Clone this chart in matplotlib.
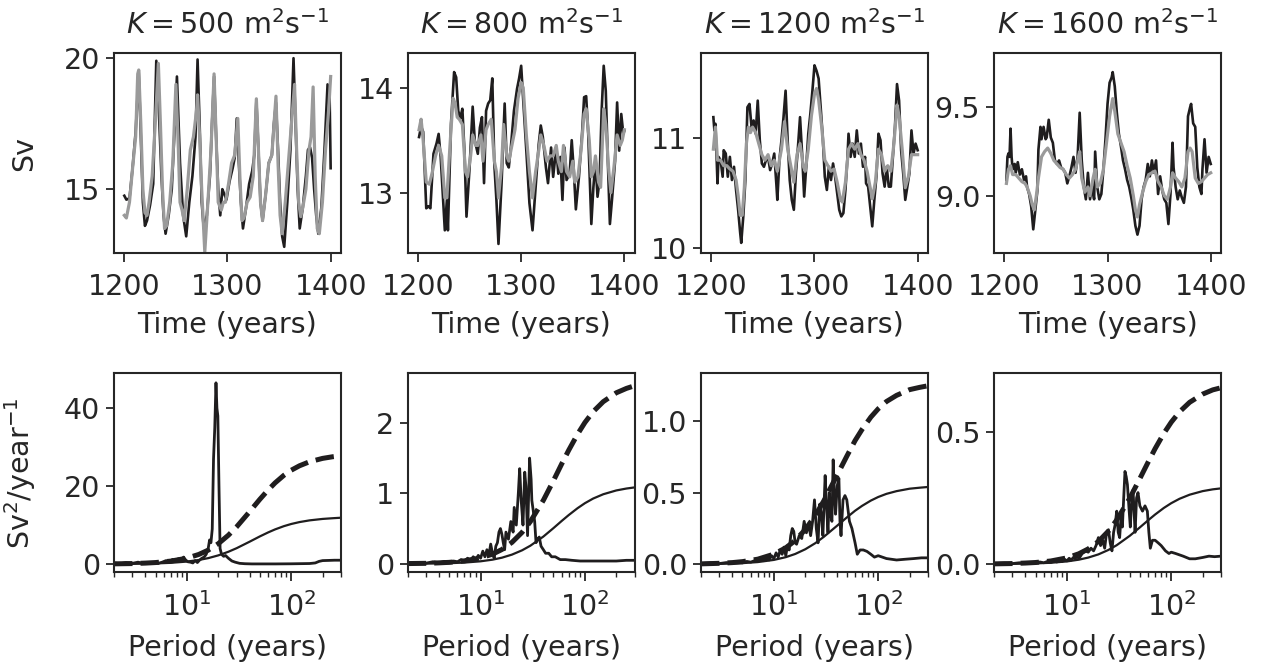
import matplotlib
matplotlib.use("Agg")
import matplotlib.pyplot as plt

K_VALUES = [500, 800, 1200, 1600]

# ---------------- top row: transport time series (Sv) ----------------
yr_500_blk = [1200, 1202, 1205, 1208, 1211, 1214, 1216, 1218, 1220, 1222,
              1225, 1228, 1231, 1233, 1236, 1238, 1240, 1243, 1246, 1249,
              1251, 1254, 1257, 1260, 1263, 1266, 1269, 1271, 1273, 1275,
              1277, 1280, 1283, 1285, 1287, 1289, 1291, 1293, 1295, 1297,
              1299, 1302, 1305, 1307, 1309, 1311, 1313, 1315, 1318, 1321,
              1324, 1326, 1328, 1330, 1332, 1334, 1337, 1340, 1343, 1345,
              1347, 1349, 1351, 1353, 1355, 1358, 1361, 1364, 1366, 1368,
              1370, 1373, 1376, 1378, 1380, 1382, 1384, 1386, 1388, 1391,
              1394, 1397, 1399, 1400]
sv_500_blk = [14.75, 14.6, 14.65, 15.8, 17.2, 19.5, 17.0, 14.5, 13.6, 13.8,
              14.4, 15.2, 19.9, 18.5, 15.5, 14.0, 13.3, 14.0, 15.0, 17.5,
              19.3, 16.0, 14.0, 13.2, 14.5, 15.5, 17.0, 19.95, 17.5, 14.5,
              13.5, 14.0, 15.5, 17.5, 19.3, 17.0, 15.0, 14.0, 15.0, 14.8,
              14.6, 15.3, 15.8, 16.2, 17.7, 16.0, 14.5, 13.5, 14.3, 15.2,
              15.7, 16.3, 18.4, 16.5, 14.5, 13.8, 14.8, 16.0, 16.3, 17.5,
              18.3, 16.5, 14.5, 13.2, 12.8, 14.5, 16.5, 20.0, 17.5, 15.0,
              13.5, 14.3, 15.5, 16.5, 16.6, 16.2, 15.0, 14.0, 13.3, 14.3,
              16.5, 19.0, 18.5, 15.8]
yr_500_gry = [1200, 1202, 1205, 1208, 1211, 1213, 1214, 1216, 1218, 1220,
              1222, 1224, 1227, 1230, 1233, 1235, 1237, 1239, 1241, 1244,
              1247, 1250, 1252, 1254, 1256, 1258, 1261, 1264, 1267, 1270,
              1271, 1273, 1275, 1278, 1281, 1284, 1287, 1289, 1291, 1294,
              1296, 1298, 1301, 1304, 1307, 1310, 1312, 1314, 1316, 1319,
              1322, 1325, 1328, 1330, 1332, 1334, 1337, 1340, 1343, 1347,
              1349, 1351, 1353, 1356, 1360, 1363, 1365, 1367, 1369, 1371,
              1373, 1376, 1379, 1381, 1383, 1385, 1387, 1389, 1392, 1395,
              1398, 1400]
sv_500_gry = [14.0, 13.9, 14.5, 15.8, 17.0, 19.4, 19.55, 17.5, 15.0, 14.1,
              14.0, 14.5, 15.5, 17.5, 19.8, 17.5, 15.0, 13.5, 13.6, 14.5,
              16.0, 19.0, 17.0, 14.5, 14.2, 13.8, 15.0, 16.5, 17.0, 18.0,
              18.6, 17.0, 15.0, 12.6, 14.5, 16.5, 19.4, 17.0, 14.5, 14.2,
              14.5, 14.5, 15.2, 16.0, 16.3, 17.7, 15.5, 13.8, 13.9, 14.5,
              14.7, 15.5, 18.45, 16.5, 14.5, 13.8, 14.8, 16.0, 16.3, 18.55,
              16.0, 14.0, 13.3, 14.5, 16.5, 18.0, 19.0, 16.5, 14.5, 13.95,
              14.3, 15.0, 16.5, 17.0, 18.9, 15.5, 13.5, 13.3, 14.5, 16.5,
              18.0, 19.3]

yr_800_blk = [1201, 1203, 1205, 1208, 1210, 1212, 1215, 1218, 1220, 1222,
              1226, 1228, 1229, 1232, 1235, 1237, 1239, 1241, 1243, 1245,
              1247, 1250, 1253, 1255, 1258, 1260, 1262, 1264, 1266, 1268,
              1270, 1272, 1274, 1276, 1278, 1281, 1284, 1286, 1288, 1290,
              1293, 1296, 1298, 1300, 1302, 1305, 1308, 1311, 1314, 1317,
              1319, 1321, 1324, 1326, 1329, 1331, 1334, 1336, 1338, 1340,
              1342, 1344, 1347, 1349, 1351, 1353, 1356, 1359, 1361, 1363,
              1365, 1368, 1370, 1372, 1374, 1376, 1378, 1380, 1382, 1384,
              1386, 1388, 1391, 1393, 1395, 1397, 1399, 1400]
sv_800_blk = [13.53, 13.63, 13.58, 12.85, 12.87, 12.85, 13.37, 13.47, 13.56, 13.34,
              12.64, 12.93, 12.64, 13.66, 14.15, 14.1, 13.78, 13.71, 13.8, 13.4,
              12.77, 13.24, 13.82, 13.5, 13.37, 13.62, 13.72, 13.09, 13.78, 13.85,
              13.88, 14.09, 13.27, 12.93, 12.51, 13.09, 13.85, 13.28, 13.24, 13.43,
              13.78, 13.99, 14.09, 14.21, 13.88, 13.4, 12.9, 12.64, 13.05, 13.46,
              13.64, 13.53, 13.24, 13.09, 13.43, 13.15, 13.43, 13.18, 13.34, 12.93,
              13.43, 13.12, 13.18, 13.5, 13.21, 12.84, 13.15, 13.56, 13.91, 13.92,
              13.56, 12.7, 13.05, 13.3, 12.96, 13.12, 13.78, 14.21, 13.97, 13.3,
              12.7, 12.93, 13.3, 13.86, 13.4, 13.75, 13.56, 13.59]
yr_800_gry = [1201, 1203, 1205, 1208, 1211, 1214, 1217, 1220, 1223, 1226,
              1228, 1231, 1234, 1236, 1238, 1240, 1243, 1246, 1248, 1251,
              1253, 1256, 1258, 1261, 1263, 1266, 1268, 1271, 1274, 1276,
              1278, 1281, 1283, 1286, 1288, 1291, 1294, 1297, 1300, 1302,
              1305, 1308, 1311, 1314, 1317, 1319, 1322, 1325, 1328, 1331,
              1334, 1336, 1339, 1341, 1344, 1347, 1350, 1352, 1355, 1358,
              1361, 1363, 1366, 1368, 1370, 1372, 1375, 1377, 1380, 1382,
              1385, 1387, 1390, 1393, 1396, 1398, 1400]
sv_800_gry = [13.6, 13.7, 13.5, 13.1, 13.08, 13.2, 13.35, 13.45, 13.35, 12.95,
              12.95, 13.45, 13.9, 13.85, 13.72, 13.7, 13.65, 13.2, 13.15, 13.35,
              13.55, 13.45, 13.45, 13.55, 13.3, 13.6, 13.65, 13.7, 13.3, 13.2,
              12.95, 13.25, 13.65, 13.35, 13.3, 13.45, 13.6, 13.9, 14.05, 14.0,
              13.55, 13.2, 12.95, 13.2, 13.4, 13.55, 13.45, 13.3, 13.35, 13.35,
              13.45, 13.3, 13.2, 13.45, 13.2, 13.15, 13.3, 13.1, 13.15, 13.4,
              13.75, 13.8, 13.5, 13.15, 13.2, 13.35, 13.1, 13.05, 13.8, 13.65,
              13.2, 13.0, 13.25, 13.55, 13.45, 13.5, 13.6]

yr_1200_blk = [1202, 1203, 1204, 1205, 1206, 1207, 1209, 1211, 1212, 1214,
               1216, 1218, 1220, 1222, 1224, 1226, 1228, 1229, 1231, 1233,
               1235, 1237, 1239, 1241, 1243, 1245, 1247, 1249, 1251, 1253,
               1255, 1257, 1259, 1261, 1263, 1264, 1266, 1268, 1270, 1272,
               1274, 1276, 1278, 1280, 1282, 1284, 1286, 1288, 1290, 1292,
               1294, 1296, 1298, 1300, 1302, 1304, 1306, 1308, 1310, 1312,
               1314, 1316, 1318, 1320, 1322, 1324, 1326, 1328, 1330, 1332,
               1333, 1335, 1337, 1339, 1341, 1343, 1345, 1347, 1349, 1350,
               1352, 1354, 1356, 1358, 1360, 1362, 1364, 1366, 1368, 1370,
               1372, 1374, 1376, 1378, 1380, 1382, 1384, 1386, 1388, 1390,
               1392, 1394, 1396, 1398, 1400]
sv_1200_blk = [11.19, 11.07, 11.13, 10.86, 10.59, 10.83, 10.8, 10.65, 10.89, 10.86,
               10.65, 10.83, 10.62, 10.74, 10.53, 10.35, 10.14, 10.05, 10.29, 10.62,
               11.28, 11.31, 11.1, 11.16, 11.04, 11.34, 10.98, 10.77, 10.74, 10.8,
               10.83, 10.71, 10.77, 10.86, 10.59, 10.44, 10.8, 10.98, 11.19, 11.43,
               10.98, 10.62, 10.44, 10.35, 10.68, 10.92, 11.19, 10.86, 10.47, 10.74,
               11.04, 11.22, 11.43, 11.66, 11.61, 11.54, 11.28, 11.01, 10.65, 10.53,
               10.74, 10.62, 10.77, 10.65, 10.5, 10.35, 10.29, 10.32, 10.53, 10.83,
               11.04, 10.83, 10.95, 10.83, 11.07, 10.86, 10.95, 10.74, 10.83, 10.59,
               10.56, 10.38, 10.2, 10.44, 10.65, 11.04, 10.98, 10.68, 10.56, 10.74,
               10.56, 10.56, 10.83, 11.1, 11.49, 11.34, 10.89, 10.68, 10.44, 10.56,
               10.68, 11.07, 10.86, 10.95, 10.89]
yr_1200_gry = [1202, 1204, 1206, 1209, 1212, 1215, 1218, 1221, 1224, 1226,
               1228, 1230, 1232, 1234, 1236, 1238, 1240, 1243, 1246, 1249,
               1252, 1255, 1258, 1261, 1264, 1266, 1268, 1271, 1274, 1277,
               1280, 1283, 1286, 1289, 1291, 1294, 1297, 1300, 1302, 1304,
               1307, 1310, 1313, 1316, 1319, 1322, 1325, 1327, 1330, 1333,
               1336, 1339, 1342, 1345, 1348, 1351, 1354, 1356, 1359, 1362,
               1365, 1368, 1371, 1374, 1377, 1380, 1382, 1385, 1388, 1391,
               1394, 1397, 1400]
sv_1200_gry = [10.9, 11.1, 10.8, 10.8, 10.75, 10.75, 10.72, 10.7, 10.62, 10.48,
               10.3, 10.3, 10.55, 10.95, 11.1, 11.05, 11.1, 11.05, 10.95, 10.85,
               10.8, 10.85, 10.75, 10.8, 10.7, 10.8, 10.9, 11.15, 10.9, 10.75,
               10.6, 10.85, 10.95, 10.75, 10.7, 10.9, 11.2, 11.4, 11.45, 11.35,
               11.1, 10.8, 10.75, 10.7, 10.72, 10.6, 10.45, 10.42, 10.6, 10.9,
               10.95, 10.9, 10.95, 10.85, 10.8, 10.7, 10.55, 10.45, 10.6, 10.9,
               10.85, 10.7, 10.75, 10.7, 10.95, 11.3, 11.2, 10.9, 10.55, 10.65,
               10.85, 10.85, 10.85]

yr_1600_blk = [1202, 1203, 1204, 1205, 1206, 1207, 1208, 1210, 1211, 1213,
               1215, 1217, 1219, 1221, 1222, 1224, 1226, 1228, 1230, 1232,
               1233, 1235, 1236, 1238, 1240, 1241, 1243, 1245, 1247, 1249,
               1251, 1253, 1255, 1257, 1259, 1261, 1263, 1265, 1267, 1269,
               1271, 1273, 1275, 1277, 1279, 1281, 1283, 1285, 1287, 1288,
               1290, 1292, 1294, 1296, 1298, 1300, 1302, 1304, 1305, 1307,
               1309, 1311, 1313, 1315, 1317, 1319, 1321, 1323, 1325, 1327,
               1329, 1331, 1333, 1335, 1337, 1339, 1341, 1343, 1345, 1347,
               1349, 1351, 1353, 1355, 1357, 1359, 1361, 1363, 1364, 1366,
               1368, 1370, 1372, 1374, 1376, 1378, 1380, 1381, 1383, 1385,
               1387, 1389, 1391, 1392, 1394, 1396, 1398, 1400]
sv_1600_blk = [9.09, 9.22, 9.24, 9.22, 9.38, 9.22, 9.15, 9.18, 9.13, 9.19,
               9.12, 9.15, 9.09, 9.11, 9.05, 9.01, 8.94, 8.81, 8.92, 9.03,
               9.26, 9.39, 9.32, 9.39, 9.32, 9.33, 9.43, 9.33, 9.30, 9.20,
               9.18, 9.20, 9.16, 9.15, 9.13, 9.07, 9.11, 9.16, 9.22, 9.13,
               9.22, 9.47, 9.20, 9.05, 8.98, 9.13, 8.98, 9.05, 8.98, 9.25,
               9.05, 8.98, 9.01, 9.15, 9.32, 9.52, 9.64, 9.67, 9.70, 9.62,
               9.47, 9.35, 9.28, 9.20, 9.15, 9.09, 9.05, 8.99, 8.92, 8.83,
               8.78, 8.83, 8.98, 9.05, 9.09, 9.18, 9.11, 9.20, 9.13, 9.20,
               9.01, 9.11, 9.03, 8.98, 8.96, 8.84, 9.01, 9.30, 9.16, 9.05,
               8.98, 9.03, 8.99, 8.96, 9.05, 9.45, 9.50, 9.52, 9.41, 9.39,
               9.16, 9.05, 9.01, 9.15, 9.32, 9.13, 9.22, 9.18]
yr_1600_gry = [1202, 1204, 1206, 1208, 1211, 1214, 1217, 1220, 1222, 1225,
               1227, 1229, 1231, 1233, 1236, 1239, 1242, 1245, 1248, 1251,
               1254, 1257, 1260, 1263, 1266, 1269, 1271, 1273, 1275, 1278,
               1281, 1283, 1286, 1288, 1290, 1293, 1296, 1299, 1302, 1305,
               1307, 1310, 1313, 1316, 1319, 1322, 1325, 1327, 1329, 1331,
               1334, 1337, 1340, 1343, 1346, 1349, 1352, 1355, 1358, 1361,
               1363, 1366, 1369, 1372, 1375, 1378, 1380, 1382, 1385, 1388,
               1391, 1394, 1397, 1400]
sv_1600_gry = [9.07, 9.15, 9.17, 9.12, 9.12, 9.1, 9.08, 9.07, 9.05, 9.0,
               8.95, 8.92, 9.0, 9.1, 9.22, 9.25, 9.27, 9.24, 9.2, 9.18,
               9.16, 9.15, 9.12, 9.1, 9.12, 9.15, 9.2, 9.25, 9.1, 9.02,
               9.05, 9.0, 9.1, 9.15, 9.05, 9.07, 9.15, 9.3, 9.45, 9.55,
               9.48, 9.35, 9.3, 9.25, 9.17, 9.1, 9.0, 8.92, 8.88, 8.95,
               9.02, 9.08, 9.12, 9.13, 9.14, 9.08, 9.05, 9.0, 8.98, 9.05,
               9.13, 9.1, 9.08, 9.05, 9.1, 9.25, 9.27, 9.25, 9.1, 9.07,
               9.08, 9.1, 9.12, 9.13]

# ---------------- bottom row: spectra (Sv^2/year^-1) ----------------
per_500 = [2.0, 2.3, 2.6, 3.0, 3.4, 3.8, 4.3, 4.8, 5.3, 5.8,
           6.3, 6.8, 7.3, 7.8, 8.3, 8.8, 9.3, 9.7, 10.2, 10.8,
           11.4, 12.0, 12.6, 13.2, 13.9, 14.6, 15.3, 16.0, 16.5, 17.0,
           17.5, 18.0, 18.5, 19.0, 19.4, 19.8, 20.3, 20.8, 21.5, 22.5,
           23.5, 25, 27, 29, 32, 36, 42, 50, 70, 100,
           150, 170, 185, 200, 230, 260, 300]
psd_500 = [0.3, 0.1, 0.4, 0.2, 0.5, 0.2, 0.4, 0.3, 0.2, 0.5,
           0.9, 0.6, 1.2, 0.7, 1.4, 0.9, 1.8, 1.1, 0.6, 0.5,
           0.3, 0.9, 0.4, 1.0, 1.5, 1.8, 2.5, 4.0, 6.2, 5.5,
           9.0, 27.0, 35.0, 46.5, 40.0, 38.0, 20.0, 4.0, 2.5, 2.0,
           2.2, 1.5, 0.8, 0.5, 0.2, 0.1, 0.05, 0.05, 0.05, 0.08,
           0.15, 0.3, 0.7, 0.9, 0.95, 1.0, 1.0]

per_800 = [2.0, 2.5, 3.0, 3.5, 4.0, 4.5, 5.0, 5.5, 6.0, 6.5,
           7.0, 7.5, 8.0, 8.5, 9.0, 9.5, 10.0, 10.5, 11.0, 11.5,
           12.0, 12.5, 13.0, 13.5, 14.0, 14.5, 15.0, 15.5, 16.0, 16.5,
           17.0, 17.5, 18.5, 19.5, 20.5, 21.0, 22.0, 23.0, 23.7, 24.5,
           25.5, 26.5, 27.2, 28.2, 29.5, 30.5, 31.0, 32.0, 33.0, 34.0,
           35.0, 36.5, 38, 40, 42, 45, 48, 52, 58, 65,
           75, 90, 120, 160, 200, 250, 300]
psd_800 = [0.01, 0.02, 0.01, 0.03, 0.015, 0.035, 0.02, 0.04, 0.03, 0.06,
           0.04, 0.08, 0.05, 0.1, 0.06, 0.12, 0.08, 0.18, 0.1, 0.2,
           0.12, 0.28, 0.15, 0.08, 0.25, 0.3, 0.45, 0.5, 0.42, 0.3,
           0.2, 0.45, 0.35, 0.6, 0.45, 0.8, 0.55, 1.0, 1.35, 0.9,
           0.55, 1.3, 1.1, 0.4, 1.5, 1.2, 0.9, 0.75, 0.6, 0.3,
           0.35, 0.38, 0.25, 0.2, 0.15, 0.15, 0.1, 0.1, 0.06, 0.06,
           0.05, 0.04, 0.04, 0.04, 0.04, 0.05, 0.05]

per_1200 = [2.0, 2.5, 3.0, 3.5, 4.0, 4.5, 5.0, 5.5, 6.0, 6.5,
            7.0, 7.5, 8.0, 8.5, 9.0, 9.5, 10.0, 10.5, 11.0, 11.5,
            12.0, 12.5, 13.0, 13.5, 14.0, 14.5, 15.0, 15.5, 16.0, 16.5,
            17.5, 18.5, 19.5, 20.5, 21.5, 22.5, 23.5, 24.5, 25.5, 26.5,
            27.5, 28.5, 29.5, 31.0, 32.0, 33.0, 34.0, 35.0, 36.0, 37.0,
            38.0, 39.0, 40.5, 42, 43, 44, 46, 48, 50, 53,
            56, 60, 63, 67, 72, 78, 85, 92, 100, 120,
            150, 180, 220, 260, 300]
psd_1200 = [0.005, 0.01, 0.005, 0.012, 0.008, 0.015, 0.01, 0.02, 0.015, 0.025,
            0.02, 0.035, 0.025, 0.04, 0.03, 0.06, 0.04, 0.08, 0.05, 0.1,
            0.07, 0.12, 0.06, 0.13, 0.1, 0.2, 0.25, 0.23, 0.15, 0.14,
            0.2, 0.18, 0.3, 0.22, 0.28, 0.2, 0.3, 0.45, 0.25, 0.15,
            0.42, 0.35, 0.2, 0.62, 0.4, 0.22, 0.5, 0.35, 0.3, 0.73,
            0.5, 0.35, 0.55, 0.6, 0.3, 0.2, 0.45, 0.48, 0.45, 0.3,
            0.25, 0.15, 0.07, 0.1, 0.1, 0.09, 0.07, 0.05, 0.06, 0.04,
            0.03, 0.035, 0.04, 0.045, 0.045]

per_1600 = [2.0, 2.5, 3.0, 3.5, 4.0, 4.5, 5.0, 5.5, 6.0, 6.5,
            7.0, 7.5, 8.0, 8.5, 9.0, 9.5, 10.0, 10.5, 11.0, 11.5,
            12.0, 12.5, 13.0, 14.0, 15.0, 16.0, 17.0, 18.0, 19.0, 20.0,
            21.0, 22.0, 23.0, 24.0, 25.0, 26.0, 27.0, 28.0, 29.0, 30.0,
            31.0, 32.0, 33.0, 34.0, 35.0, 36.0, 37.0, 38.0, 39.5, 40.5,
            42, 43, 44, 45, 46.5, 48, 50, 53, 56, 59,
            61, 63, 66, 70, 75, 80, 88, 95, 100, 110,
            130, 150, 170, 200, 230, 260, 300]
psd_1600 = [0.002, 0.004, 0.002, 0.005, 0.003, 0.006, 0.004, 0.008, 0.005, 0.01,
            0.007, 0.012, 0.008, 0.015, 0.01, 0.018, 0.012, 0.022, 0.015, 0.025,
            0.02, 0.03, 0.02, 0.04, 0.05, 0.045, 0.06, 0.05, 0.07, 0.1,
            0.07, 0.09, 0.06, 0.12, 0.13, 0.08, 0.05, 0.12, 0.15, 0.2,
            0.12, 0.1, 0.18, 0.14, 0.25, 0.35, 0.33, 0.3, 0.2, 0.14,
            0.26, 0.28, 0.2, 0.12, 0.25, 0.27, 0.22, 0.2, 0.22, 0.2,
            0.12, 0.06, 0.09, 0.09, 0.08, 0.07, 0.05, 0.04, 0.045, 0.04,
            0.03, 0.02, 0.02, 0.025, 0.03, 0.028, 0.03]

# red-noise fit (thin) and 95% level (dashed), read at these periods
per_fit = [2, 3, 4, 5, 7, 10, 13, 16, 20, 25, 30, 40, 50, 60, 70, 85,
           100, 120, 150, 200, 250, 300]
fit_500 = [0.03, 0.06, 0.11, 0.17, 0.33, 0.65, 1.06, 1.53, 2.24, 3.17, 4.09,
           5.76, 7.10, 8.12, 8.90, 9.73, 10.29, 10.78, 11.22, 11.59, 11.77, 11.9]
sig_500 = [0.07, 0.14, 0.26, 0.40, 0.77, 1.52, 2.48, 3.58, 5.24, 7.42, 9.57,
           13.48, 16.61, 19.0, 20.83, 22.77, 24.08, 25.22, 26.26, 27.12, 27.54, 27.8]
fit_800 = [0.002, 0.003, 0.006, 0.009, 0.018, 0.036, 0.059, 0.087, 0.131, 0.192,
           0.257, 0.387, 0.507, 0.609, 0.692, 0.789, 0.860, 0.926, 0.987, 1.041,
           1.068, 1.084]
sig_800 = [0.004, 0.007, 0.014, 0.021, 0.042, 0.084, 0.137, 0.203, 0.305, 0.447,
           0.599, 0.902, 1.181, 1.419, 1.612, 1.838, 2.004, 2.158, 2.300, 2.426,
           2.488, 2.526]
fit_1200 = [0.0013, 0.0029, 0.0051, 0.008, 0.0154, 0.0306, 0.0497, 0.072, 0.105,
            0.148, 0.191, 0.267, 0.327, 0.374, 0.408, 0.445, 0.470, 0.492, 0.511,
            0.528, 0.535, 0.540]
sig_1200 = [0.003, 0.0067, 0.0118, 0.0185, 0.0356, 0.0707, 0.115, 0.166, 0.243,
            0.342, 0.441, 0.617, 0.755, 0.864, 0.942, 1.028, 1.086, 1.137, 1.180,
            1.220, 1.236, 1.247]
fit_1600 = [0.0004, 0.0009, 0.0017, 0.0026, 0.005, 0.0101, 0.0167, 0.0246, 0.0366,
            0.0535, 0.0714, 0.1068, 0.1386, 0.1654, 0.1872, 0.2122, 0.2301, 0.2467,
            0.2621, 0.2756, 0.2823, 0.286]
sig_1600 = [0.0009, 0.0021, 0.004, 0.006, 0.0117, 0.0235, 0.039, 0.0573, 0.0853,
            0.1247, 0.1664, 0.2488, 0.323, 0.385, 0.436, 0.494, 0.536, 0.575, 0.611,
            0.642, 0.658, 0.666]

top_ylims = [(12.55, 20.19), (12.42, 14.33), (9.955, 11.77), (8.674, 9.807)]
top_yticks = [[15, 20], [13, 14], [10, 11], [9.0, 9.5]]
bot_ylims = [(-2.1, 48.9), (-0.12, 2.70), (-0.056, 1.333), (-0.031, 0.72)]
bot_yticks = [[0, 20, 40], [0, 1, 2], [0.0, 0.5, 1.0], [0.0, 0.5]]

BLK = "#1f1d1e"
GRY = "#9a9a9a"
TXT = "#262626"

plt.rcParams.update({
    "font.family": "DejaVu Sans",
    "font.size": 20.5,
    "text.color": TXT,
    "axes.labelcolor": TXT,
    "xtick.color": TXT,
    "ytick.color": TXT,
    "axes.edgecolor": TXT,
    "axes.linewidth": 1.5,
    "xtick.major.size": 6.5,
    "ytick.major.size": 6,
    "xtick.major.width": 1.3,
    "ytick.major.width": 1.3,
    "xtick.minor.size": 3.5,
    "xtick.minor.width": 1.0,
    "xtick.major.pad": 7.5,
    "ytick.major.pad": 4,
})


def plot_series(fig):
    yrs_b = [yr_500_blk, yr_800_blk, yr_1200_blk, yr_1600_blk]
    sv_b = [sv_500_blk, sv_800_blk, sv_1200_blk, sv_1600_blk]
    yrs_g = [yr_500_gry, yr_800_gry, yr_1200_gry, yr_1600_gry]
    sv_g = [sv_500_gry, sv_800_gry, sv_1200_gry, sv_1600_gry]
    for i, k in enumerate(K_VALUES):
        ax = fig.add_axes([LEFTS[i], 0.619, WIDTH, 0.301])
        ax.plot(yrs_b[i], sv_b[i], color=BLK, lw=1.9)
        ax.plot(yrs_g[i], sv_g[i], color=GRY, lw=2.3)
        ax.set_xlim(1190, 1410)
        ax.set_ylim(*top_ylims[i])
        ax.set_xticks([1200, 1300, 1400])
        ax.set_yticks(top_yticks[i])
        if i == 3:
            ax.set_yticklabels(["9.0", "9.5"])
        ax.set_xlabel("Time (years)", labelpad=7)
        ax.set_title(r"$K = %d$ m$^2$s$^{-1}$" % k, pad=14, fontsize=20.5)
        if i == 0:
            ax.set_ylabel("Sv")
            ax.yaxis.set_label_coords(-0.335, 0.5)


def plot_spectra(fig):
    pers = [per_500, per_800, per_1200, per_1600]
    psds = [psd_500, psd_800, psd_1200, psd_1600]
    fits = [fit_500, fit_800, fit_1200, fit_1600]
    sigs = [sig_500, sig_800, sig_1200, sig_1600]
    for i in range(4):
        ax = fig.add_axes([LEFTS[i], 0.1394, WIDTH, 0.299])
        ax.plot(pers[i], psds[i], color=BLK, lw=2.0)
        ax.plot(per_fit, fits[i], color=BLK, lw=1.6)
        ax.plot(per_fit, sigs[i], color=BLK, lw=3.6, ls="--")
        ax.set_xscale("log")
        ax.set_xlim(2, 300)
        ax.set_ylim(*bot_ylims[i])
        ax.set_yticks(bot_yticks[i])
        ax.set_xlabel("Period (years)", labelpad=9)
        if i == 0:
            ax.set_ylabel(r"Sv$^2$/year$^{-1}$")
            ax.yaxis.set_label_coords(-0.335, 0.5)


LEFTS = [0.0904, 0.3233, 0.5559, 0.7883]
WIDTH = 0.180

if __name__ == "__main__":
    fig = plt.figure(figsize=(12.61, 6.65), dpi=100)
    plot_series(fig)
    plot_spectra(fig)
    fig.savefig("out.png", dpi=100)
    plt.close(fig)
